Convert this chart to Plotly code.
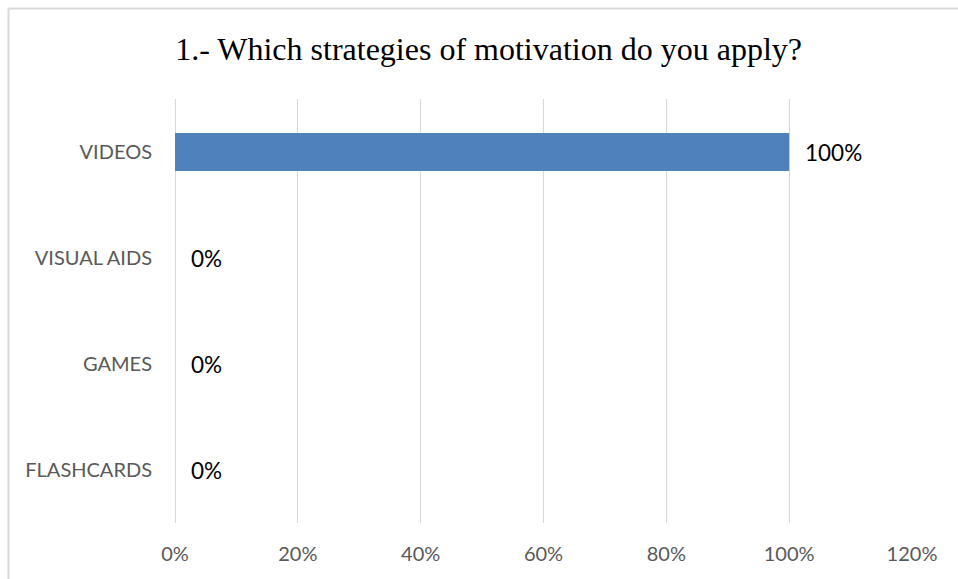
import plotly.graph_objects as go

# Survey answers
categories = ["VIDEOS", "VISUAL AIDS", "GAMES", "FLASHCARDS"]
percentages = [100, 0, 0, 0]
x_ticks = [0, 20, 40, 60, 80, 100, 120]
x_tick_labels = ["0%", "20%", "40%", "60%", "80%", "100%", "120%"]

W, H = 958, 579
M_L, M_R, M_T, M_B = 175, 46, 99, 56
plot_w = W - M_L - M_R
plot_h = H - M_T - M_B

fig = go.Figure(
    go.Bar(
        y=categories,
        x=percentages,
        orientation="h",
        width=0.36,
        marker=dict(color="#4F81BD", line=dict(width=0)),
        hoverinfo="skip",
    )
)

# value labels to the right of each bar end
for cat, val in zip(categories, percentages):
    fig.add_annotation(
        x=val, y=cat, xref="x", yref="y",
        text=f"{val}%", showarrow=False,
        xanchor="left", yanchor="middle", xshift=14,
        font=dict(family="Lato", size=22.5, color="#000000"),
    )

# chart frame (top and left edges)
def px_to_paper_x(px):
    return (px - M_L) / plot_w

def px_to_paper_y(py):
    return 1 - (py - M_T) / plot_h

frame = dict(color="#D9D9D9", width=2)
fig.add_shape(type="line", xref="paper", yref="paper",
              x0=px_to_paper_x(8.5), x1=px_to_paper_x(W + 5),
              y0=px_to_paper_y(8.5), y1=px_to_paper_y(8.5), line=frame)
fig.add_shape(type="line", xref="paper", yref="paper",
              x0=px_to_paper_x(8.5), x1=px_to_paper_x(8.5),
              y0=px_to_paper_y(8.5), y1=px_to_paper_y(H + 5), line=frame)

fig.update_layout(
    width=W, height=H,
    margin=dict(l=M_L, r=M_R, t=M_T, b=M_B, pad=0),
    paper_bgcolor="white", plot_bgcolor="white",
    showlegend=False,
    title=dict(
        text="1.- Which strategies of motivation do you apply?",
        x=0.51, xanchor="center", y=1 - 49 / H, yanchor="middle",
        font=dict(family="Liberation Serif", size=32, color="#000000"),
    ),
    xaxis=dict(
        range=[0, 120], tickvals=x_ticks, ticktext=x_tick_labels,
        showgrid=True, gridcolor="#D9D9D9", gridwidth=1,
        zeroline=True, zerolinecolor="#D9D9D9", zerolinewidth=1,
        showline=False, ticks="",
        tickfont=dict(family="Lato", size=20, color="#595959"),
        ticklabelstandoff=17,
    ),
    yaxis=dict(
        autorange="reversed", showgrid=False, zeroline=False,
        showline=False, ticks="",
        tickfont=dict(family="Lato", size=20, color="#595959"),
        ticklabelstandoff=22,
    ),
)

fig.write_html("out.html")
